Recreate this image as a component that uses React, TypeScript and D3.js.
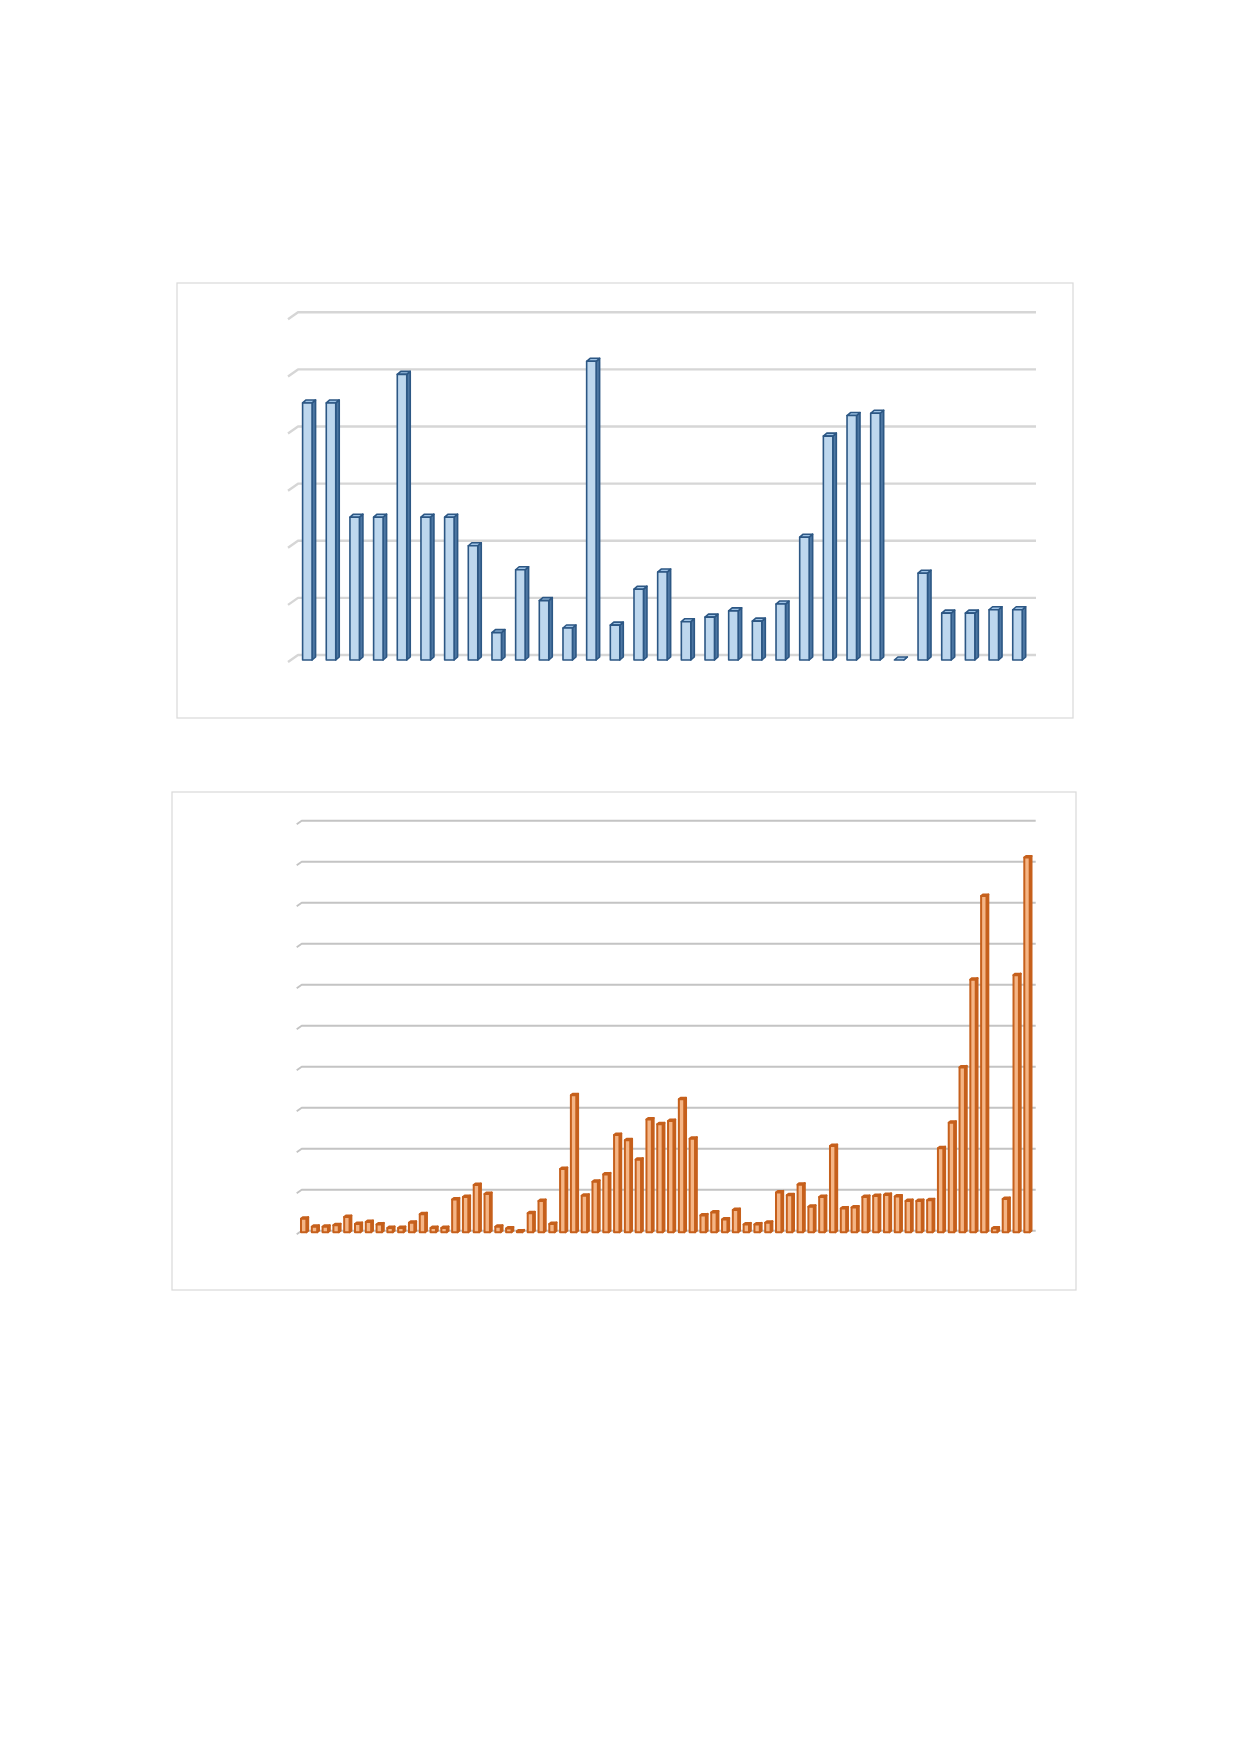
import * as d3 from "d3";

// values, in gridline units (the charts carry no labels)
const topCategories = d3.range(1, 32).map(String);
const topValues = [
  4.5, 4.5, 2.5, 2.5, 5.0, 2.5, 2.5, 2.0, 0.48, 1.58, 1.04, 0.56, 5.23, 0.61, 1.24, 1.54,
  0.67, 0.75, 0.86, 0.68, 0.98, 2.15, 3.92, 4.28, 4.32, 0, 1.52, 0.82, 0.82, 0.88, 0.88,
];
const topTicks = [0, 1, 2, 3, 4, 5, 6];

const bottomCategories = d3.range(1, 69).map(String);
const bottomValues = [
  0.33, 0.13, 0.13, 0.17, 0.37, 0.2, 0.25, 0.19, 0.1, 0.1, 0.23, 0.44, 0.1, 0.1, 0.8, 0.86,
  1.15, 0.93, 0.13, 0.09, 0.02, 0.46, 0.76, 0.2, 1.54, 3.34, 0.89, 1.23, 1.41, 2.37, 2.24, 1.77,
  2.75, 2.63, 2.71, 3.24, 2.28, 0.41, 0.48, 0.31, 0.54, 0.19, 0.19, 0.23, 0.97, 0.9, 1.16, 0.62,
  0.86, 2.1, 0.58, 0.6, 0.86, 0.88, 0.91, 0.87, 0.76, 0.76, 0.78, 2.05, 2.67, 4.02, 6.16, 8.2,
  0.09, 0.81, 6.27, 9.14,
];
const bottomTicks = [0, 1, 2, 3, 4, 5, 6, 7, 8, 9, 10];

type Chart3DProps = {
  categories: string[];
  values: number[];
  ticks: number[];
  frame: { x: number; y: number; w: number; h: number };
  wall: { left: number; right: number; top: number; bottom: number };
  bars: { x0: number; x1: number; padInner: number; padOuter: number };
  depth: { dx: number; dy: number };
  frontOffset: number;
  slant: { dx: number; dy: number };
  colors: { front: string; side: string; top: string; stroke: string };
  strokeWidth: number;
  grid: { color: string; width: number };
};

function Column3DChart(p: Chart3DProps) {
  const x = d3.scaleBand<string>()
    .domain(p.categories)
    .range([p.bars.x0, p.bars.x1])
    .paddingInner(p.bars.padInner)
    .paddingOuter(p.bars.padOuter);

  const y = d3.scaleLinear()
    .domain([p.ticks[0], p.ticks[p.ticks.length - 1]])
    .range([p.wall.bottom, p.wall.top]);

  const w = x.bandwidth();
  const { dx, dy } = p.depth;
  const yBase = y(0) + p.frontOffset;
  const pts = (a: number[][]) => a.map((q) => q.join(",")).join(" ");

  return (
    <g>
      <rect x={p.frame.x} y={p.frame.y} width={p.frame.w} height={p.frame.h}
        fill="#fff" stroke="#d9d9d9" strokeWidth={1.2} />
      {/* gridlines: short slant on the side wall, then along the back wall */}
      {p.ticks.map((t) => {
        const gy = y(t);
        const path = d3.path();
        path.moveTo(p.wall.left - p.slant.dx, gy + p.slant.dy);
        path.lineTo(p.wall.left, gy);
        path.lineTo(p.wall.right, gy);
        return <path key={t} d={path.toString()} fill="none"
          stroke={p.grid.color} strokeWidth={p.grid.width} strokeLinejoin="round" />;
      })}
      {p.values.map((v, i) => {
        const bx = x(p.categories[i]) ?? 0;
        const yt = y(v) + p.frontOffset;
        const side = [[bx + w, yt], [bx + w + dx, yt - dy], [bx + w + dx, yBase - dy], [bx + w, yBase]];
        const top = [[bx, yt], [bx + dx, yt - dy], [bx + w + dx, yt - dy], [bx + w, yt]];
        return (
          <g key={i} stroke={p.colors.stroke} strokeWidth={p.strokeWidth} strokeLinejoin="round">
            <polygon points={pts(side)} fill={p.colors.side} />
            <polygon points={pts(top)} fill={p.colors.top} />
            <rect x={bx} y={yt} width={w} height={Math.max(0, yBase - yt)} fill={p.colors.front} />
          </g>
        );
      })}
    </g>
  );
}

export default function App() {
  return (
    <div style={{ position: "absolute", left: 0, top: 0 }}>
      <svg width={1240} height={1754} viewBox="0 0 1240 1754" style={{ display: "block", background: "#fff" }}>
        <Column3DChart
          categories={topCategories}
          values={topValues}
          ticks={topTicks}
          frame={{ x: 177, y: 283, w: 896, h: 435 }}
          wall={{ left: 298, right: 1036, top: 312.3, bottom: 655 }}
          bars={{ x0: 295.5, x1: 1029.3, padInner: 0.6, padOuter: 0.3 }}
          depth={{ dx: 3.5, dy: 3 }}
          frontOffset={5}
          slant={{ dx: 10, dy: 7 }}
          colors={{ front: "#bdd7ee", side: "#4d77a3", top: "#9ec3e6", stroke: "#2c5784" }}
          strokeWidth={1.6}
          grid={{ color: "#d6d6d6", width: 2.4 }}
        />
        <Column3DChart
          categories={bottomCategories}
          values={bottomValues}
          ticks={bottomTicks}
          frame={{ x: 172, y: 792, w: 904, h: 498 }}
          wall={{ left: 301.7, right: 1035.7, top: 820.7, bottom: 1230.7 }}
          bars={{ x0: 298.3, x1: 1032.4, padInner: 0.5, padOuter: 0.25 }}
          depth={{ dx: 1.8, dy: 1.5 }}
          frontOffset={1.5}
          slant={{ dx: 5, dy: 3.5 }}
          colors={{ front: "#f5b585", side: "#c55a11", top: "#f4b183", stroke: "#c6601c" }}
          strokeWidth={2}
          grid={{ color: "#c4c4c4", width: 1.9 }}
        />
      </svg>
    </div>
  );
}
